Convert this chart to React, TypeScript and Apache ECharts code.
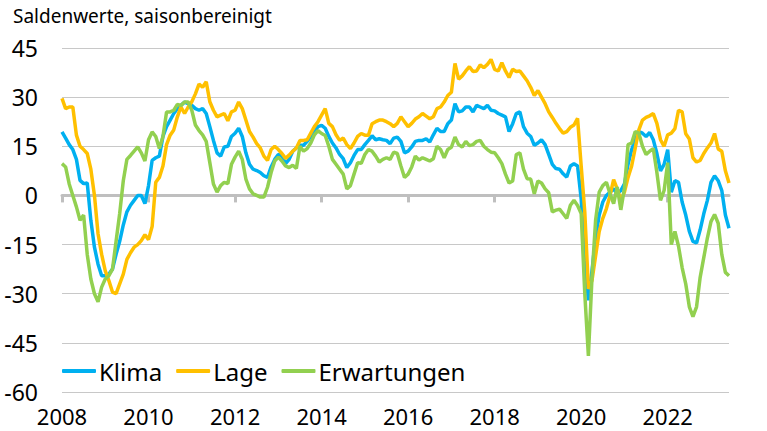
import { useEffect, useRef } from "react";
import * as echarts from "echarts";

// Monatswerte Jan 2008 bis Jun 2023
const months: string[] = [];
for (let y = 2008; y <= 2023; y++) {
  for (let m = 1; m <= 12; m++) months.push(`${y}-${String(m).padStart(2, "0")}`);
}
const categories = months.slice(0, 186);

const klima = [
  19.4, 17.5, 15.5, 14, 11, 4.6, 3.6, 3.8, -7.6, -15.8, -21, -24.5,
  -24.5, -24, -22.5, -18, -14, -9, -5, -3, -1.5, 0, 0, -2.5,
  3, 10.7, 11.5, 12, 18, 21, 23, 25, 26.5, 27.5, 28.5, 28,
  27.5, 26.5, 26, 26.5, 25, 21, 16.8, 13, 12, 14.8, 15, 18,
  19, 20.5, 18, 13, 9.5, 8, 7.6, 7, 6, 5.5, 8.7, 11,
  12.5, 12.2, 9.7, 11, 13.5, 14.5, 15.3, 15.3, 16.5, 18, 19.5, 21,
  21.4, 20.5, 18, 16, 14.5, 12.5, 11.2, 8.5, 10, 12.2, 14, 14,
  15.5, 16.8, 18.2, 17, 17.3, 17, 16.8, 15.8, 17.5, 17.8, 16.5, 13,
  13.5, 14.8, 16.5, 16.8, 16.8, 17.3, 16.3, 18.5, 20.5, 19.5, 19.5, 21.9,
  23, 28, 25.5, 25.8, 27, 27, 25.5, 27.5, 27, 26.5, 27.5, 26,
  25.8, 25, 24.5, 24, 19.5, 21.9, 25, 25.5, 21, 19, 18, 15.3,
  16, 17, 15.5, 12.5, 9.5, 8.2, 8, 6.6, 5.6, 9, 9.7, 9,
  -1, -20, -32, -23, -12.8, -6, -2, 0, 1, 2, 0.5, 1.5,
  3.5, 9.5, 14, 17, 19.5, 19, 18, 19.2, 17, 12.8, 7.5, 9.5,
  14, 1, 4.5, 4, -2, -6, -11, -14, -14.5, -10.5, -5.6, -1.5,
  4, 6, 4.5, 1.5, -6, -10,
];

const lage = [
  29.6, 26.5, 27, 27, 18.4, 15, 14, 12.8, 8, 0, -11.7, -18,
  -23, -26, -29.5, -30, -27, -24, -19.5, -17.5, -15.8, -15, -13.8, -12,
  -13.5, -9.5, 4, 5.5, 9, 15.5, 18.4, 20, 24, 27, 25, 27,
  28.6, 31, 34, 33, 34.7, 28.6, 26, 24, 24.5, 25, 22.8, 25.5,
  26, 28.5, 26.5, 23, 19.5, 17.8, 15.8, 14.5, 12, 10.7, 14, 15,
  14, 12.8, 11.3, 12.3, 13.5, 14.5, 16.8, 16.8, 17, 19, 21, 22.5,
  24.5, 26.5, 22, 21, 18.5, 16.8, 17.5, 15.5, 14.3, 16, 18, 18.9,
  18.4, 18.4, 21.9, 22.5, 23, 23, 22.5, 21.9, 21, 22, 24, 22.5,
  21, 22, 23.3, 24, 25, 24.2, 23.4, 24, 26.5, 27, 28.5, 30.5,
  31.5, 40.3, 35.5, 36.5, 38, 39.3, 37.8, 38, 39.8, 39, 40, 41.5,
  38.5, 38, 40.5, 38, 36, 38.5, 37.8, 38, 36.5, 35, 33, 30.5,
  32, 30, 28, 25.5, 23.8, 22, 20.4, 19, 19.5, 20.8, 21.5, 23.5,
  9, -5, -28.5, -26, -18.5, -11, -7, -4, 0, 4.8, 2, -1.5,
  1, 5.5, 9, 14.5, 20, 23, 23.8, 24.3, 25, 22, 17, 15,
  18.5, 19, 20.4, 26, 25.5, 18.8, 17.2, 11.5, 10.2, 10.7, 12.8, 14.5,
  16, 18.9, 14.2, 13.5, 7.5, 3.8,
];

const erwartungen = [
  9.7, 8.7, 3.5, 0, -3.5, -7.6, -6, -18, -25.5, -30, -32.5, -28,
  -25.5, -24.5, -22.5, -14, -5.5, 4.5, 11, 12.2, 13.5, 14.8, 13, 10.5,
  17, 19.4, 18, 14.3, 18, 25.5, 25.5, 26, 27.8, 27.5, 28.5, 28.5,
  26, 21.5, 19.8, 18.5, 16.5, 10, 3.5, 1, 3, 4, 3.6, 9.5,
  11.7, 13.5, 11, 5, 2, 0.5, 0, -0.5, -0.5, 2.5, 7, 10.5,
  11.7, 10.5, 9, 8.5, 9.2, 8.2, 15, 13.5, 14.3, 16, 18.5, 19.8,
  18.9, 18.3, 15, 11, 9.5, 8, 6.5, 2, 3, 6.5, 10, 9.8,
  12.5, 14, 13.5, 12, 10.2, 11, 11.5, 11, 13.2, 12.8, 9, 5.5,
  6.5, 8.7, 12, 10.8, 11.5, 11, 10.5, 11.2, 15, 14, 11.5, 14,
  14.7, 17.8, 15.5, 14.8, 16.5, 15.2, 15.5, 16.5, 16.8, 15, 14, 13.2,
  13, 11.5, 9.7, 6.5, 3.8, 4.4, 12.5, 13, 8, 5.1, 5, 0.5,
  4.4, 3.8, 2, 0.8, -5, -4.5, -4.2, -5.6, -7, -3, -1.5, -3.1,
  -5.5, -30, -49, -25, -7.6, 1, 3, 4, 0.5, -2.5, 2.6, -4.4,
  2.2, 15.5, 16, 19.5, 19, 15, 12.5, 13.5, 14.3, 7, -1.5, 1.5,
  10, -15, -11, -15.5, -22, -27, -34, -37, -34, -25, -19, -13,
  -8, -5.8, -8.5, -18, -23.5, -24.5,
];

const FONT = "Noto Sans";

export default function App() {
  const chartRef = useRef<HTMLDivElement>(null);

  useEffect(() => {
    if (!chartRef.current) return;
    const chart = echarts.init(chartRef.current, null, { renderer: "svg" });

    const line = (name: string, data: number[], color: string) => ({
      name,
      type: "line" as const,
      data,
      symbol: "none",
      color,
      lineStyle: { color, width: 3.5 },
    });

    chart.setOption({
      animation: false,
      textStyle: { fontFamily: FONT },
      title: {
        text: "Saldenwerte, saisonbereinigt",
        left: 13,
        top: 6,
        padding: 0,
        textStyle: { fontSize: 19, fontWeight: "normal", color: "#000", fontFamily: FONT },
      },
      legend: {
        data: ["Klima", "Lage", "Erwartungen"],
        left: 62,
        top: 359,
        padding: 0,
        icon: "roundRect",
        itemWidth: 34,
        itemHeight: 4,
        itemGap: 14,
        textStyle: { fontSize: 24, color: "#000", fontFamily: FONT, padding: [0, 0, 0, -2] },
      },
      grid: { left: 62, right: 38, top: 48, bottom: 39 },
      xAxis: [
        {
          type: "category",
          data: categories,
          boundaryGap: false,
          position: "bottom",
          axisLine: { show: false, onZero: false },
          axisTick: { show: false },
          axisLabel: {
            interval: 23,
            formatter: (v: string) => v.slice(0, 4),
            fontSize: 22,
            lineHeight: 22,
            color: "#000",
            margin: 13,
            fontFamily: FONT,
          },
          splitLine: { show: false },
        },
        {
          type: "category",
          data: categories,
          boundaryGap: false,
          position: "bottom",
          axisLine: { show: true, onZero: true, lineStyle: { color: "#bfbfbf", width: 3 } },
          axisTick: { show: true, interval: 23, length: 7, lineStyle: { color: "#bfbfbf", width: 3 } },
          axisLabel: { show: false },
          splitLine: { show: false },
        },
      ],
      yAxis: {
        type: "value",
        min: -60,
        max: 45,
        interval: 15,
        axisLine: { show: false },
        axisTick: { show: false },
        axisLabel: { fontSize: 23, color: "#000", margin: 24, fontFamily: FONT },
        splitLine: { lineStyle: { color: "#c8c8c8", width: 1 } },
      },
      series: [
        line("Klima", klima, "#00b0f0"),
        line("Lage", lage, "#ffc000"),
        line("Erwartungen", erwartungen, "#92d050"),
      ],
    });

    return () => chart.dispose();
  }, []);

  return (
    <div
      ref={chartRef}
      style={{ position: "fixed", left: 0, top: 0, width: 767, height: 431, background: "#fff" }}
    />
  );
}
